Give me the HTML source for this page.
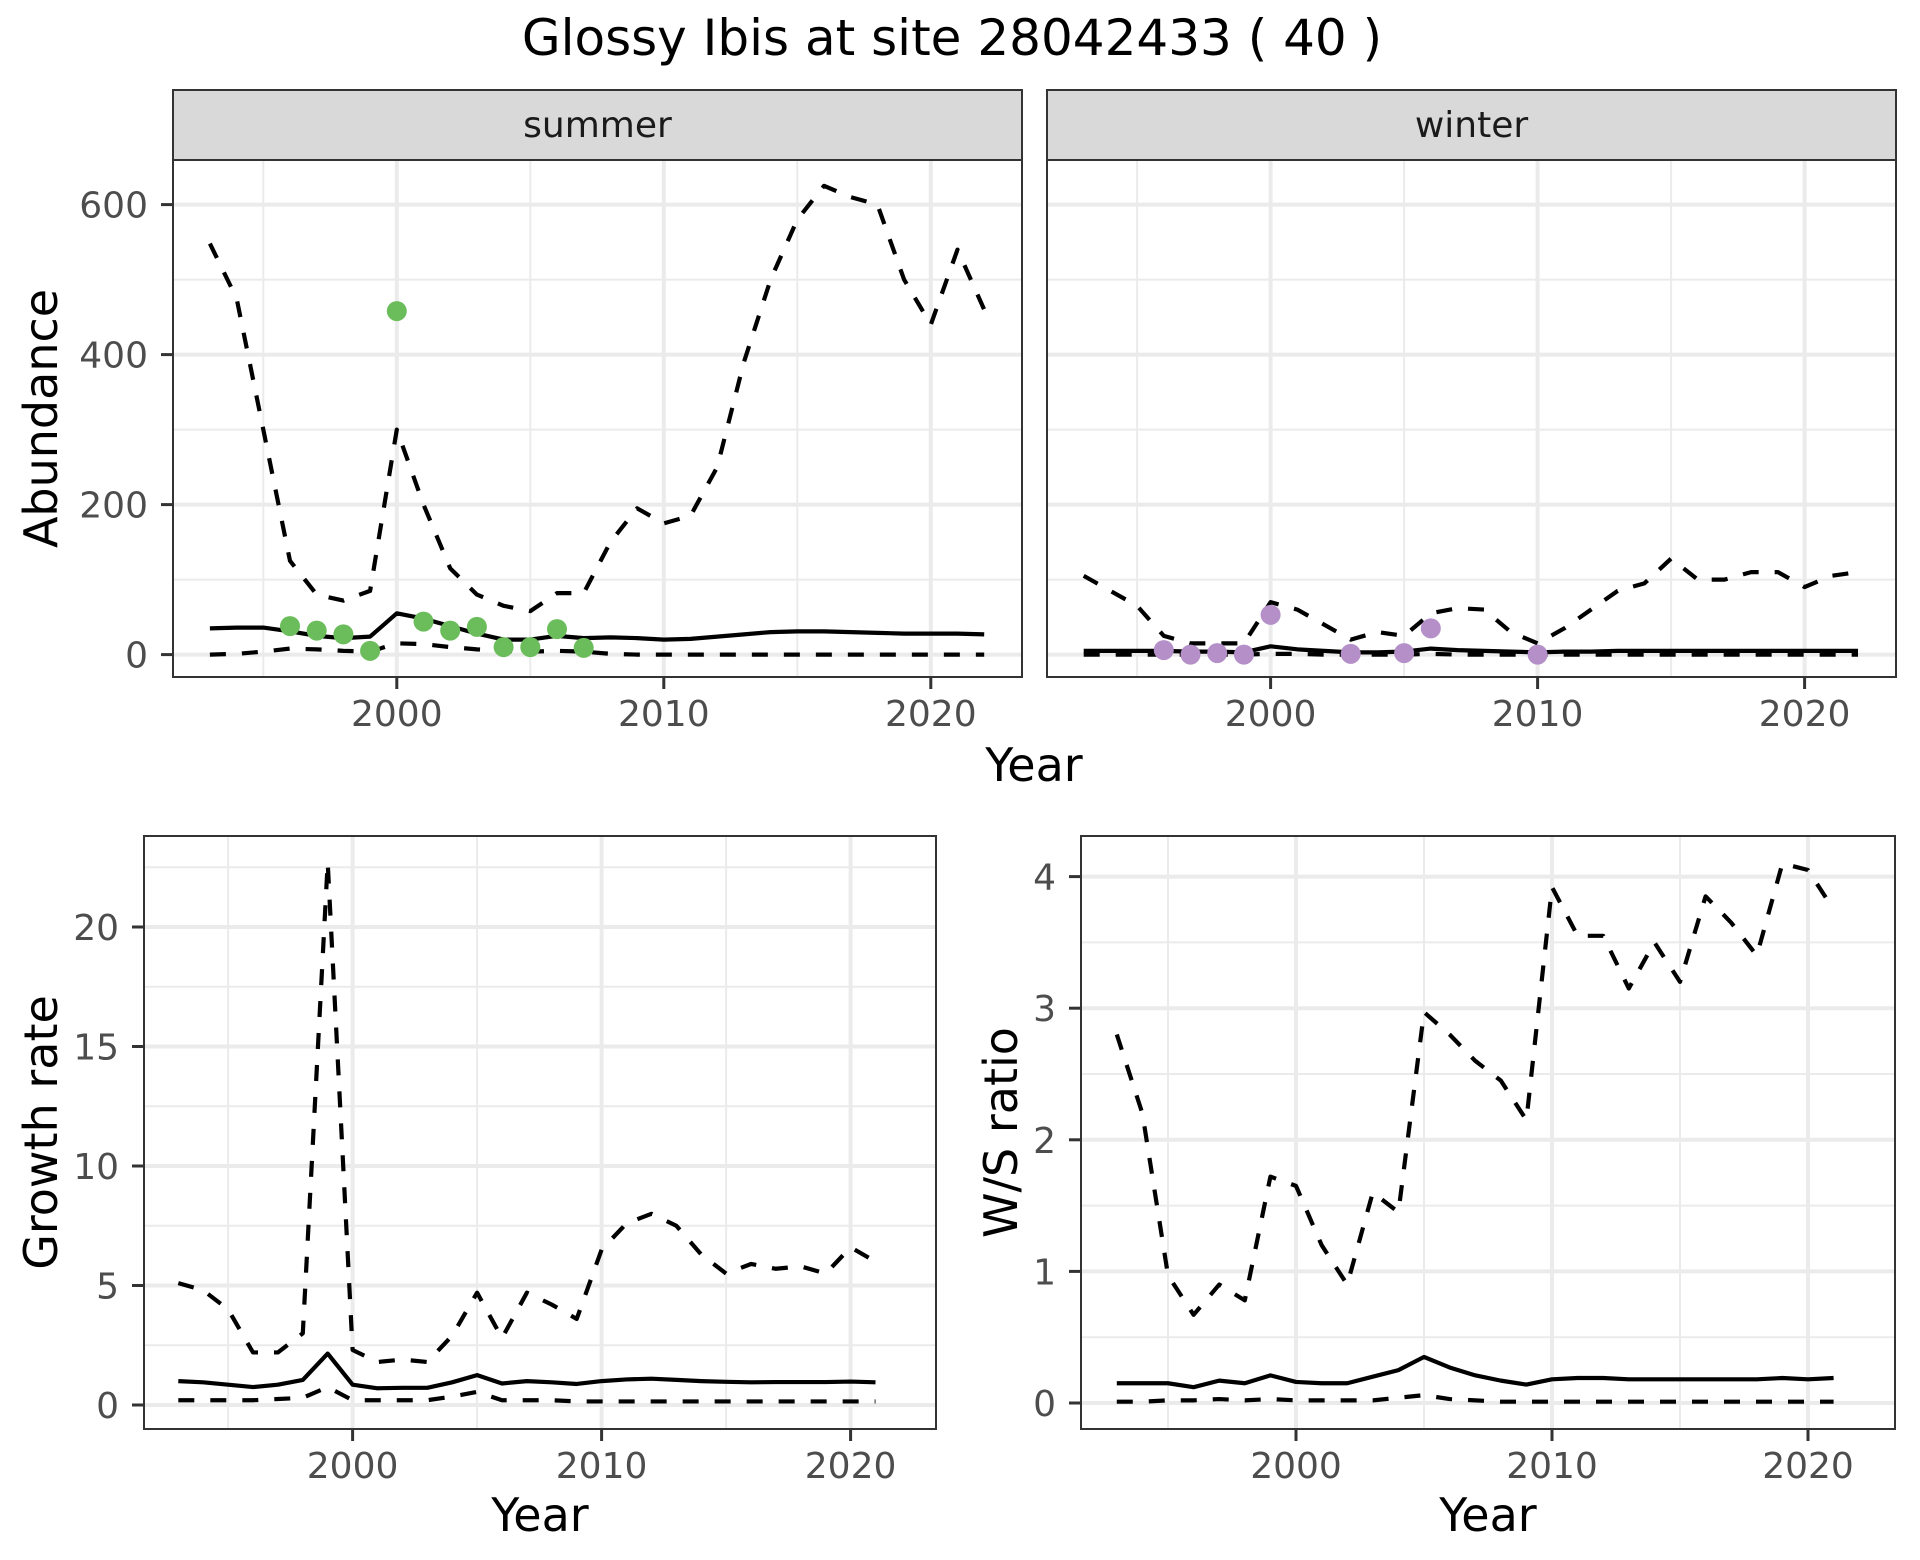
<!DOCTYPE html>
<html><head><meta charset="utf-8"><title>Glossy Ibis at site 28042433</title>
<style>html,body{margin:0;padding:0;background:#fff}svg{display:block}text{font-family:"DejaVu Sans","Liberation Sans",sans-serif}</style>
</head><body>
<svg id="chart" width="1920" height="1560" viewBox="0 0 1920 1560" xmlns="http://www.w3.org/2000/svg">
<rect width="1920" height="1560" fill="#fff"/>
<text x="952" y="55" font-size="50" text-anchor="middle" fill="#000">Glossy Ibis at site 28042433 ( 40 )</text>
<g id="plots"></g>
</svg>
<script>
// ---- data ----
const yearsAbund = [1993,1994,1995,1996,1997,1998,1999,2000,2001,2002,2003,2004,2005,2006,2007,2008,2009,2010,2011,2012,2013,2014,2015,2016,2017,2018,2019,2020,2021,2022];
const summerMean = [35,36,36,31,25,22,24,55,48,38,28,20,20,25,22,23,22,20,21,24,27,30,31,31,30,29,28,28,28,27];
const summerUpper = [548,475,300,125,80,72,85,300,200,115,80,65,58,82,82,150,195,175,185,250,390,500,580,625,610,600,500,440,540,460];
const summerLower = [0,1,4,8,7,5,4,15,14,10,7,5,4,5,4,1,0,0,0,0,0,0,0,0,0,0,0,0,0,0];
const summerObsYears = [1996,1997,1998,1999,2000,2001,2002,2003,2004,2005,2006,2007];
const summerObs = [38,32,27,5,458,44,32,37,10,10,34,9];
const winterMean = [5,5,5,5,4,4,3,11,7,5,3,3,4,8,6,5,4,3,4,4,5,5,5,5,5,5,5,5,5,5];
const winterUpper = [105,85,65,25,15,15,15,70,60,40,20,30,25,55,62,60,30,15,35,60,85,95,128,100,100,110,110,90,105,110];
const winterLower = [0,0,0,0,0,0,0,1,1,0,0,0,0,1,0,0,0,0,0,0,0,0,0,0,0,0,0,0,0,0];
const winterObsYears = [1996,1997,1998,1999,2000,2003,2005,2006,2010];
const winterObs = [6,0,2,0,53,1,2,35,0];
const yearsRate = [1993,1994,1995,1996,1997,1998,1999,2000,2001,2002,2003,2004,2005,2006,2007,2008,2009,2010,2011,2012,2013,2014,2015,2016,2017,2018,2019,2020,2021];
const growthMean = [1.0,0.95,0.85,0.75,0.85,1.05,2.15,0.85,0.7,0.72,0.72,0.95,1.25,0.9,1.0,0.95,0.88,1.0,1.07,1.1,1.05,1.0,0.97,0.95,0.96,0.96,0.96,0.98,0.95];
const growthUpper = [5.1,4.8,4.0,2.2,2.2,3.0,22.7,2.3,1.8,1.9,1.8,2.9,4.7,2.8,4.7,4.2,3.6,6.5,7.6,8.0,7.5,6.3,5.5,5.9,5.7,5.8,5.5,6.6,6.0];
const growthLower = [0.2,0.2,0.2,0.2,0.25,0.3,0.75,0.2,0.2,0.2,0.2,0.35,0.55,0.2,0.2,0.2,0.15,0.15,0.15,0.15,0.15,0.15,0.15,0.15,0.15,0.15,0.15,0.15,0.15];
const wsMean = [0.15,0.15,0.15,0.12,0.17,0.15,0.21,0.16,0.15,0.15,0.2,0.25,0.35,0.27,0.21,0.17,0.14,0.18,0.19,0.19,0.18,0.18,0.18,0.18,0.18,0.18,0.19,0.18,0.19];
const wsUpper = [2.8,2.2,0.97,0.67,0.9,0.78,1.72,1.65,1.2,0.9,1.6,1.45,2.97,2.8,2.6,2.45,2.15,3.92,3.55,3.55,3.15,3.5,3.2,3.85,3.65,3.4,4.1,4.05,3.75];
const wsLower = [0.01,0.01,0.02,0.02,0.03,0.02,0.03,0.02,0.02,0.02,0.02,0.04,0.06,0.03,0.02,0.01,0.01,0.01,0.01,0.01,0.01,0.01,0.01,0.01,0.01,0.01,0.01,0.01,0.01];
const xTicks = [2000,2010,2020];
const xMinor = [1995,2005,2015];
const abundTicks = [0,200,400,600];
const abundMinor = [100,300,500];
const growthTicks = [0,5,10,15,20];
const growthMinor = [2.5,7.5,12.5,17.5,22.5];
const wsTicks = [0,1,2,3,4];
const wsMinor = [0.5,1.5,2.5,3.5];

const NS = "http://www.w3.org/2000/svg";
const root = document.getElementById('plots');
function mk(tag, attrs, parent){const e=document.createElementNS(NS,tag);for(const k in attrs)e.setAttribute(k,attrs[k]);(parent||root).appendChild(e);return e;}

function panel(o){
  const g = mk('g',{});
  
  
  const sx = v => o.x0 + (v - o.xa) * o.xs;
  const sy = v => o.y0 - (v - o.ya) * o.ys;
  mk('rect',{x:o.L,y:o.T,width:o.R-o.L,height:o.B-o.T,fill:'#fff'},g);
  o.yMinor.forEach(v=>{mk('line',{x1:o.L,x2:o.R,y1:sy(v),y2:sy(v),stroke:'#ebebeb','stroke-width':2},g);});
  xMinor.forEach(v=>{mk('line',{x1:sx(v),x2:sx(v),y1:o.T,y2:o.B,stroke:'#ebebeb','stroke-width':2},g);});
  o.yTicks.forEach(v=>{mk('line',{x1:o.L,x2:o.R,y1:sy(v),y2:sy(v),stroke:'#ebebeb','stroke-width':4},g);});
  xTicks.forEach(v=>{mk('line',{x1:sx(v),x2:sx(v),y1:o.T,y2:o.B,stroke:'#ebebeb','stroke-width':4},g);});
  const line=(ys,dash,nm)=>{
    const p = mk('polyline',{points:o.years.map((y,i)=>sx(y)+','+sy(ys[i])).join(' '),fill:'none',stroke:'#000','stroke-width':4.2,'stroke-linejoin':'round'},g);
    if(dash) p.setAttribute('stroke-dasharray','16 16');
    
    
  };
  line(o.upper,true,o.name+'-upper-line');
  line(o.lower,true,o.name+'-lower-line');
  line(o.mean,false,o.name+'-mean-line');
  if(o.obs){
    o.obsYears.forEach((y,i)=>{
      const c = mk('circle',{cx:sx(y),cy:sy(o.obs[i]),r:10,fill:o.color},g);
      
      
    });
  }
  mk('rect',{x:o.L,y:o.T,width:o.R-o.L,height:o.B-o.T,fill:'none',stroke:'#333','stroke-width':2},g);
  xTicks.forEach(v=>{
    mk('line',{x1:sx(v),x2:sx(v),y1:o.B,y2:o.B+12,stroke:'#333','stroke-width':3},g);
    const t = mk('text',{x:sx(v),y:o.B+49,'font-size':36,'text-anchor':'middle',fill:'#4d4d4d'},g);
    t.textContent = v;
    
    
  });
  if(o.yLabels){
    o.yTicks.forEach(v=>{
      mk('line',{x1:o.L-12,x2:o.L,y1:sy(v),y2:sy(v),stroke:'#333','stroke-width':3},g);
      const t = mk('text',{x:o.L-25,y:sy(v)+13,'font-size':36,'text-anchor':'end',fill:'#4d4d4d'},g);
      t.textContent = v;
      
      
    });
  }
  if(o.strip){
    const s = mk('rect',{x:o.L,y:90,width:o.R-o.L,height:70,fill:'#d9d9d9',stroke:'#333','stroke-width':2},g);
    
    
    const t = mk('text',{x:(o.L+o.R)/2,y:137,'font-size':36,'text-anchor':'middle',fill:'#1a1a1a'},g);
    t.textContent = o.strip;
    
    
  }
  if(o.ytitle){
    const t = mk('text',{x:0,y:0,'font-size':46,'text-anchor':'middle',fill:'#000',transform:'translate('+o.ytx+','+((o.T+o.B)/2)+') rotate(-90)'},g);
    t.textContent = o.ytitle;
    
    
  }
}

panel({name:'summer-panel',strip:'summer',L:173,R:1022,T:160,B:677,x0:396.8,xa:2000,xs:26.7,y0:654.6,ya:0,ys:0.75,
  years:yearsAbund,mean:summerMean,upper:summerUpper,lower:summerLower,obs:summerObs,obsYears:summerObsYears,color:'#6abd5a',
  yTicks:abundTicks,yMinor:abundMinor,yLabels:true,ytitle:'Abundance',ytx:57});
panel({name:'winter-panel',strip:'winter',L:1047,R:1896,T:160,B:677,x0:1270.6,xa:2000,xs:26.7,y0:654.6,ya:0,ys:0.75,
  years:yearsAbund,mean:winterMean,upper:winterUpper,lower:winterLower,obs:winterObs,obsYears:winterObsYears,color:'#b48fc8',
  yTicks:abundTicks,yMinor:abundMinor,yLabels:false});
panel({name:'growth-panel',L:144,R:936,T:836,B:1429,x0:352.6,xa:2000,xs:24.9,y0:1405,ya:0,ys:23.9,
  years:yearsRate,mean:growthMean,upper:growthUpper,lower:growthLower,
  yTicks:growthTicks,yMinor:growthMinor,yLabels:true,ytitle:'Growth rate',ytx:57});
panel({name:'ws-panel',L:1081,R:1895,T:836,B:1429,x0:1296,xa:2000,xs:25.6,y0:1403,ya:0,ys:131.6,
  years:yearsRate,mean:wsMean,upper:wsUpper,lower:wsLower,
  yTicks:wsTicks,yMinor:wsMinor,yLabels:true,ytitle:'W/S ratio',ytx:1017});

function xtitle(x,y){
  const t = mk('text',{x:x,y:y,'font-size':46,'text-anchor':'middle',fill:'#000'});
  t.textContent='Year';
  
  
}
xtitle(1034,781);
xtitle(540,1531);
xtitle(1488,1531);
</script>
</body></html>
